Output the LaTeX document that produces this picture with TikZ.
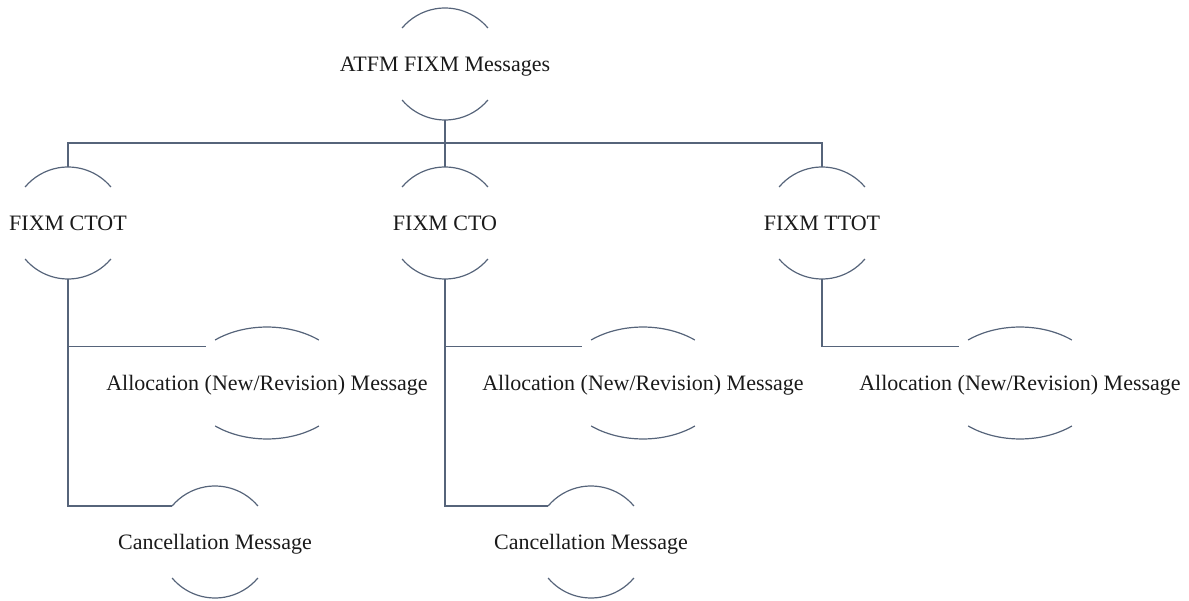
\documentclass[tikz,border=0pt]{standalone}
\usepackage{fontspec}
\setmainfont{Liberation Serif}
\usetikzlibrary{shapes.geometric}
\definecolor{linec}{HTML}{56647A}
\definecolor{txtc}{HTML}{1A1A1A}
\tikzset{
  conn/.style={draw=linec, line width=0.75pt},
  arcline/.style={draw=linec, line width=0.6pt},
  lbl/.style={inner sep=0pt, outer sep=0pt, text=txtc,
    font=\fontsize{11pt}{13pt}\selectfont, text height=7.2pt, text depth=0pt},
  circnode/.style={lbl, circle, minimum size=56pt},
  ellnode/.style={lbl, ellipse, minimum width=81pt, minimum height=56pt},
}
\begin{document}
\begin{tikzpicture}[x=0.5pt,y=0.5pt]
\useasboundingbox (0,0) rectangle (1189,600);
% nodes
\node[circnode] (top)  at (445,536) {\makebox[0pt]{ATFM FIXM Messages}};
\node[circnode] (ctot) at (68,377)  {\makebox[0pt]{FIXM CTOT}};
\node[circnode] (cto)  at (445,377) {\makebox[0pt]{FIXM CTO}};
\node[circnode] (ttot) at (822,377) {\makebox[0pt]{FIXM TTOT}};
\node[ellnode] (al1) at (267,217) {\makebox[0pt]{Allocation (New/Revision) Message}};
\node[ellnode] (al2) at (643,217) {\makebox[0pt]{Allocation (New/Revision) Message}};
\node[ellnode] (al3) at (1020,217) {\makebox[0pt]{Allocation (New/Revision) Message}};
\node[circnode] (can1) at (215,58) {\makebox[0pt]{Cancellation Message}};
\node[circnode] (can2) at (591,58) {\makebox[0pt]{Cancellation Message}};
\coordinate (bus) at (445,457);
% arcs
\foreach \n in {top,ctot,cto,ttot,can1,can2} {
  \draw[arcline] (\n.40) arc[start angle=40,end angle=140,radius=28pt];
  \draw[arcline] (\n.220) arc[start angle=220,end angle=320,radius=28pt];
}
\foreach \n in {al1,al2,al3} {
  \draw[arcline] ([shift={(25.9pt,21.5pt)}]\n.center) arc[start angle=50.2,end angle=129.8,x radius=40.5pt,y radius=28pt];
  \draw[arcline] ([shift={(-25.9pt,-21.5pt)}]\n.center) arc[start angle=230.2,end angle=309.8,x radius=40.5pt,y radius=28pt];
}
% connectors
\draw[conn] (top.south) -- (bus);
\draw[conn] (ctot.north) |- (bus) -| (ttot.north);
\draw[conn] (bus) -- (cto.north);
\draw[conn] (ctot.south) |- (can1.140);
\draw[conn] (ctot.south) |- (al1.149.86);
\draw[conn] (cto.south) |- (can2.140);
\draw[conn] (cto.south) |- (al2.149.86);
\draw[conn] (ttot.south) |- (al3.149.86);
\end{tikzpicture}
\end{document}
